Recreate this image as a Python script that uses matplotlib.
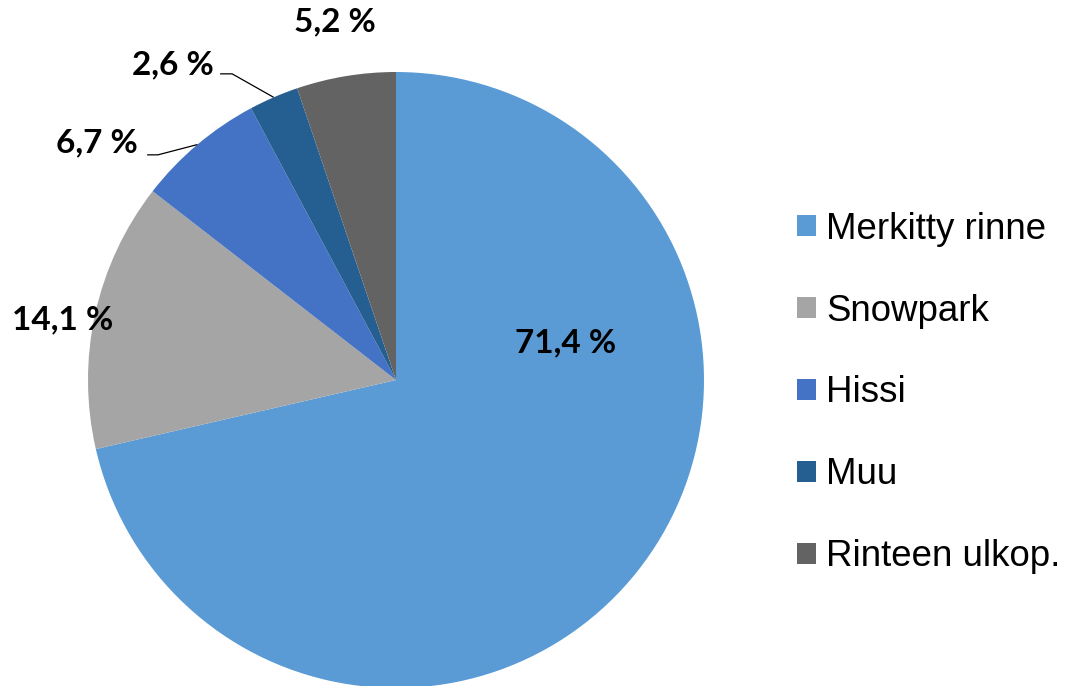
import matplotlib
matplotlib.use("Agg")
import matplotlib.pyplot as plt
from matplotlib.patches import Patch
import numpy as np

categories = ["Merkitty rinne", "Snowpark", "Hissi", "Muu", "Rinteen ulkop."]
values = [71.4, 14.1, 6.7, 2.6, 5.2]
labels = ["71,4 %", "14,1 %", "6,7 %", "2,6 %", "5,2 %"]
colors = ["#5B9BD5", "#A5A5A5", "#4472C4", "#255E91", "#636363"]

# label text centres (axes data units, radius = 1) and leader-line knees
label_pos = [(0.549, 0.12), (-1.084, 0.195), (-0.971, 0.769), (-0.724, 1.023), (-0.198, 1.162)]
leaders = {2: ((-0.773, 0.731), -0.808), 3: ((-0.532, 0.994), -0.571)}

W, H = 1065, 686
fig = plt.figure(figsize=(W / 100, H / 100), dpi=100)
cx, cy, r = 396, 380, 308
ax = fig.add_axes([(cx - r) / W, (H - cy - r) / H, 2 * r / W, 2 * r / H])
wedges, _ = ax.pie(values, colors=colors, startangle=90, counterclock=False,
                   radius=1, wedgeprops=dict(linewidth=0))
ax.set_xlim(-1, 1)
ax.set_ylim(-1, 1)
ax.set_aspect("equal")
ax.axis("off")

for i, (w, lab) in enumerate(zip(wedges, labels)):
    x, y = label_pos[i]
    ax.text(x, y, lab, ha="center", va="center", fontsize=24,
            fontweight="bold", family="Lato", clip_on=False)
    if i in leaders:
        mid = np.deg2rad((w.theta1 + w.theta2) / 2)
        ex, ey = np.cos(mid), np.sin(mid)
        (kx, ky), endx = leaders[i]
        ax.plot([ex, kx, endx], [ey, ky, ky], color="black", lw=0.9,
                clip_on=False, solid_capstyle="butt")

handles = [Patch(facecolor=c, edgecolor="none") for c in colors]
fig.legend(handles, categories, loc="center left",
           bbox_to_anchor=(797 / W, 1 - 393 / H), frameon=False,
           prop=dict(family="Liberation Sans", size=26.4),
           handlelength=0.52, handleheight=0.52, handletextpad=0.28,
           labelspacing=1.28, borderpad=0, borderaxespad=0)

fig.savefig("out.png", dpi=100, facecolor="white")
